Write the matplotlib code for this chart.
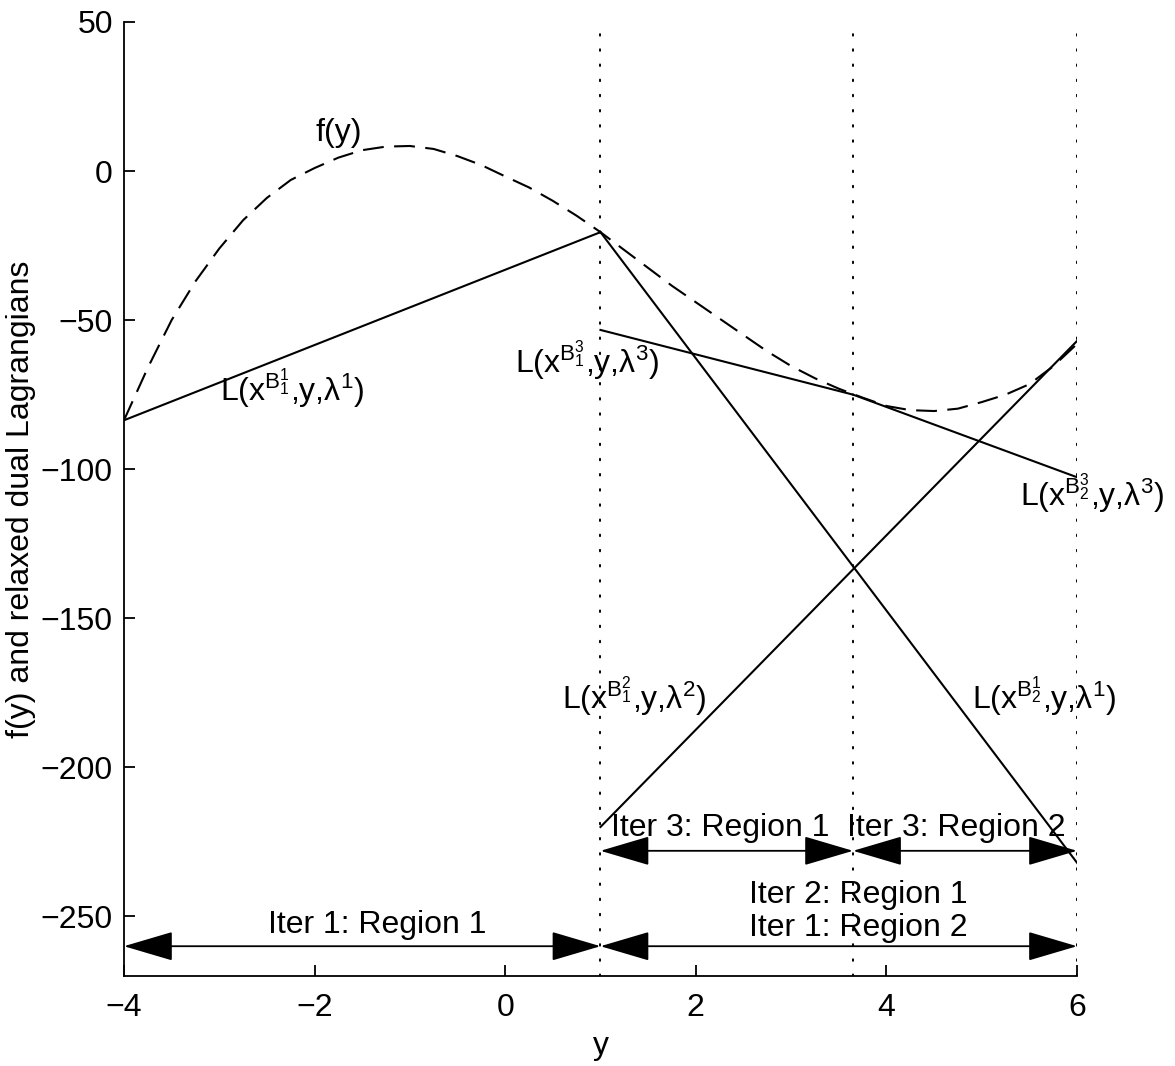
import matplotlib
matplotlib.use('Agg')
import matplotlib.pyplot as plt

plt.rcParams['font.family'] = ['Liberation Sans', 'DejaVu Sans']
plt.rcParams['mathtext.fontset'] = 'custom'
plt.rcParams['mathtext.rm'] = 'Liberation Sans'
plt.rcParams['mathtext.it'] = 'Liberation Sans'
plt.rcParams['mathtext.default'] = 'regular'

# f(y)
f_y = [-4, -3.75, -3.5, -3.25, -3, -2.75, -2.5, -2.25, -2, -1.75, -1.5, -1.25,
       -1, -0.75, -0.5, -0.25, 0, 0.25, 0.5, 0.75, 1, 1.25, 1.5, 1.75, 2, 2.25,
       2.5, 2.75, 3, 3.25, 3.5, 3.75, 4, 4.25, 4.5, 4.75, 5, 5.25, 5.5, 5.75, 6]
f_val = [-83.6, -66, -50, -37, -26, -16.5, -9, -3, 1, 4.5, 7, 8.2,
         8.4, 7.4, 5, 2, -1.8, -5.5, -10, -15, -20.5, -26.5, -32.5, -38.5, -44, -49.5,
         -55, -60.5, -65.4, -69.5, -73, -76, -78.8, -80.2, -80.5, -79.7, -77.5, -75, -71.5, -65.5, -58]

# relaxed dual Lagrangians, each one a straight piece (end points)
lag_y = [[-4, 1], [1, 6], [1, 6], [1, 3.65], [3.65, 6]]
lag_val = [[-83.6, -20.5], [-20.5, -232], [-220, -57], [-53.3, -75], [-75, -102.7]]

# region boundaries (dotted) and the region spans per iteration
region_edges = [1, 3.65, 6]
spans = [(-4, 1), (1, 6), (1, 3.65), (3.65, 6)]

fig = plt.figure(figsize=(11.75, 10.66), dpi=100)
ax = fig.add_axes([0.1055, 0.0844, 0.8111, 0.895])

ax.plot(f_y, f_val, color='k', lw=1.5, dashes=[10, 5])
for xs, ys in zip(lag_y, lag_val):
    ax.plot(xs, ys, color='k', lw=1.5)

for xe in region_edges:
    ax.axvline(xe, color='k', lw=1.4, ls=(0, (0.8, 7)), dash_capstyle='round')

# double headed arrows marking the regions
arrow_lvl = [-260, -260, -228, -228]
for (x0, x1), yv in zip(spans, arrow_lvl):
    ax.annotate('', xy=(x1, yv), xytext=(x0, yv), annotation_clip=False,
                arrowprops=dict(arrowstyle='<|-|>,head_length=2.1,head_width=0.62',
                                mutation_scale=15, lw=1.3, color='k',
                                shrinkA=0, shrinkB=0))

fs = 23
ax.text(-1.99, 10, 'f(y)', fontsize=fs)
ax.text(-2.99, -77, r'L(x$^{B_1^1}$,y,$\lambda^1$)', fontsize=fs)
ax.text(0.10, -67.5, r'L(x$^{B_1^3}$,y,$\lambda^3$)', fontsize=fs)
ax.text(5.40, -112.4, r'L(x$^{B_2^3}$,y,$\lambda^3$)', fontsize=fs)
ax.text(0.60, -180.5, r'L(x$^{B_1^2}$,y,$\lambda^2$)', fontsize=fs)
ax.text(4.90, -180.5, r'L(x$^{B_2^1}$,y,$\lambda^1$)', fontsize=fs)

ax.text(-1.34, -255.5, 'Iter 1: Region 1', fontsize=fs, ha='center')
ax.text(2.26, -223, 'Iter 3: Region 1', fontsize=fs, ha='center')
ax.text(4.73, -223, 'Iter 3: Region 2', fontsize=fs, ha='center')
ax.text(3.71, -245.5, 'Iter 2: Region 1', fontsize=fs, ha='center')
ax.text(3.71, -256.5, 'Iter 1: Region 2', fontsize=fs, ha='center')

ax.set_xlim(-4, 6)
ax.set_ylim(-270, 50)
ax.set_xticks([-4, -2, 0, 2, 4, 6])
ax.set_yticks([-250, -200, -150, -100, -50, 0, 50])
ax.spines['top'].set_visible(False)
ax.spines['right'].set_visible(False)
for s in ['left', 'bottom']:
    ax.spines[s].set_linewidth(1.3)
ax.tick_params(direction='in', length=8, width=1.3, labelsize=fs)
ax.tick_params(axis='x', pad=12)
ax.tick_params(axis='y', pad=8)

ax.set_xlabel('y', fontsize=fs, labelpad=6)
ax.set_ylabel('f(y) and relaxed dual Lagrangians', fontsize=fs)
ax.yaxis.set_label_coords(-0.092, 0.5)

fig.savefig('out.png', dpi=100)
